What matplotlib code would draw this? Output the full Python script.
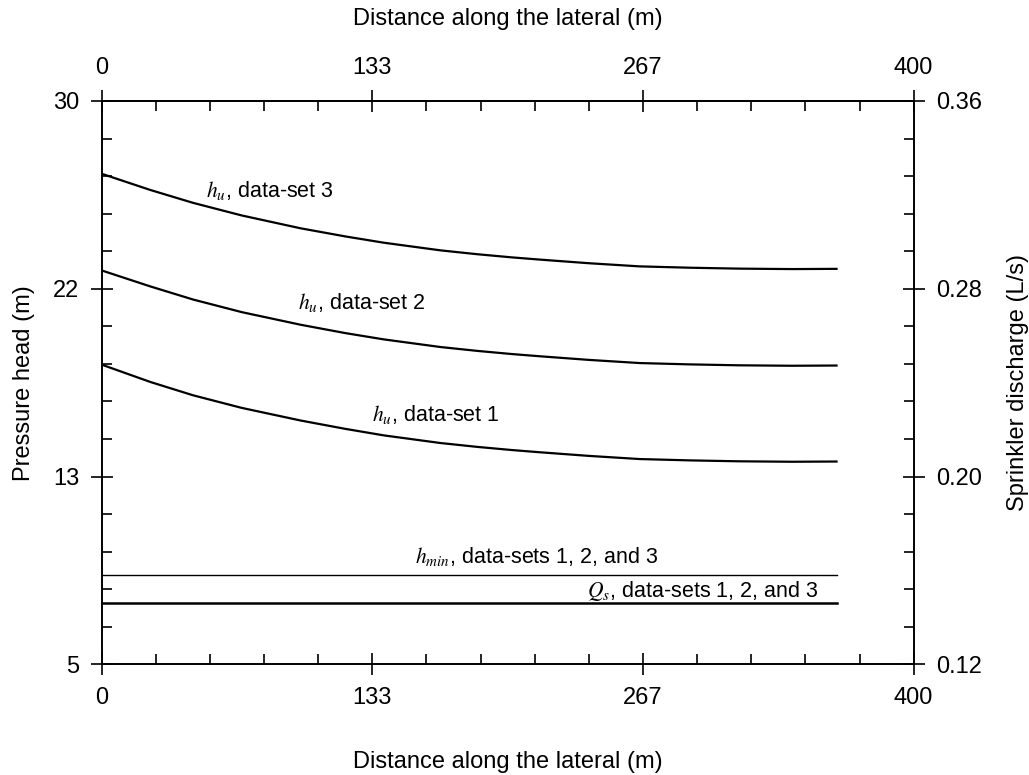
import numpy as np
import matplotlib
matplotlib.use("Agg")
import matplotlib.pyplot as plt

plt.rcParams['font.family'] = ['Liberation Sans', 'DejaVu Sans']
plt.rcParams['mathtext.fontset'] = 'stix'
plt.rcParams['font.size'] = 17

# Distancia a lo largo del lateral (m)
dist = [0, 24, 45, 69, 98, 120, 139, 167, 185, 202, 216, 240, 265, 290, 314, 340, 362]
# Carga de presion h_u (m) para cada conjunto de datos
hu_set1 = [18.30, 17.53, 16.94, 16.38, 15.82, 15.45, 15.16, 14.82, 14.65, 14.51, 14.41,
           14.25, 14.11, 14.05, 14.01, 13.99, 14.00]
hu_set2 = [22.48, 21.77, 21.19, 20.63, 20.07, 19.70, 19.42, 19.08, 18.91, 18.77, 18.67,
           18.51, 18.37, 18.31, 18.27, 18.25, 18.26]
hu_set3 = [26.77, 26.05, 25.48, 24.92, 24.35, 23.99, 23.71, 23.37, 23.20, 23.06, 22.96,
           22.80, 22.66, 22.60, 22.56, 22.54, 22.55]
h_min = 8.96      # carga minima (m)
q_s = 0.146       # caudal del aspersor (L/s)

x_ticks = np.linspace(0, 400, 4)
y_ticks = np.linspace(5, 30, 4)
q_ticks = np.linspace(0.12, 0.36, 4)

fig = plt.figure(figsize=(10.29, 7.75), dpi=100)
ax = fig.add_axes([0.0988, 0.1428, 0.7891, 0.7269])

ax.plot(dist, hu_set3, color='black', lw=1.6)
ax.plot(dist, hu_set2, color='black', lw=1.6)
ax.plot(dist, hu_set1, color='black', lw=1.6)
ax.plot([dist[0], dist[-1]], [h_min, h_min], color='black', lw=1.0)

ax.set_xlim(0, 400)
ax.set_ylim(5, 30)
ax.set_xticks(x_ticks)
ax.set_xticklabels(['%.0f' % v for v in x_ticks])
ax.set_xticks(np.linspace(0, 400, 16), minor=True)
ax.set_yticks(y_ticks)
ax.set_yticklabels(['%.0f' % v for v in y_ticks])
ax.set_yticks(np.linspace(5, 30, 16), minor=True)
ax.tick_params(which='major', direction='inout', length=16, width=1.2, pad=8)
ax.tick_params(which='minor', direction='in', length=7, width=1.2)
ax.tick_params(right=False, which='both')
for s in ax.spines.values():
    s.set_linewidth(1.2)

ax.set_xlabel('Distance along the lateral (m)', va='center')
ax.xaxis.set_label_coords(0.5, -0.173)
ax.set_ylabel('Pressure head (m)')
ax.yaxis.set_label_coords(-0.082, 0.5)

top = ax.secondary_xaxis('top')
top.set_xticks(x_ticks)
top.set_xticklabels(['%.0f' % v for v in x_ticks])
top.set_xticks(np.linspace(0, 400, 16), minor=True)
top.tick_params(which='major', direction='inout', length=16, width=1.2, pad=8)
top.tick_params(which='minor', direction='in', length=7, width=1.2)
top.spines['top'].set_linewidth(1.2)
# titulo del eje superior
ax.text(0.5, 1.146, 'Distance along the lateral (m)', transform=ax.transAxes,
        ha='center', va='center')

ax2 = ax.twinx()
ax2.plot([dist[0], dist[-1]], [q_s, q_s], color='black', lw=1.8)
ax2.set_ylim(0.12, 0.36)
ax2.set_yticks(q_ticks)
ax2.set_yticklabels(['%.2f' % v for v in q_ticks])
ax2.set_yticks(np.linspace(0.12, 0.36, 16), minor=True)
ax2.tick_params(which='major', direction='inout', length=16, width=1.2, pad=8)
ax2.tick_params(which='minor', direction='in', length=7, width=1.2)
ax2.set_ylabel('Sprinkler discharge (L/s)')
ax2.yaxis.set_label_coords(1.115, 0.5)
for s in ax2.spines.values():
    s.set_linewidth(1.2)

# Etiquetas de las curvas
fs = 15.5
ax.text(51.4, 25.75, r'$h_u$, data-set 3', va='baseline', ha='left', fontsize=fs)
ax.text(96.7, 20.75, r'$h_u$, data-set 2', va='baseline', ha='left', fontsize=fs)
ax.text(133.1, 15.81, r'$h_u$, data-set 1', va='baseline', ha='left', fontsize=fs)
ax.text(154.3, 9.48, r'$h_{min}$, data-sets 1, 2, and 3', va='baseline', ha='left', fontsize=fs)
ax.text(239.1, 7.97, r'$Q_s$, data-sets 1, 2, and 3', va='baseline', ha='left', fontsize=fs)

fig.savefig('out.png', dpi=100)
